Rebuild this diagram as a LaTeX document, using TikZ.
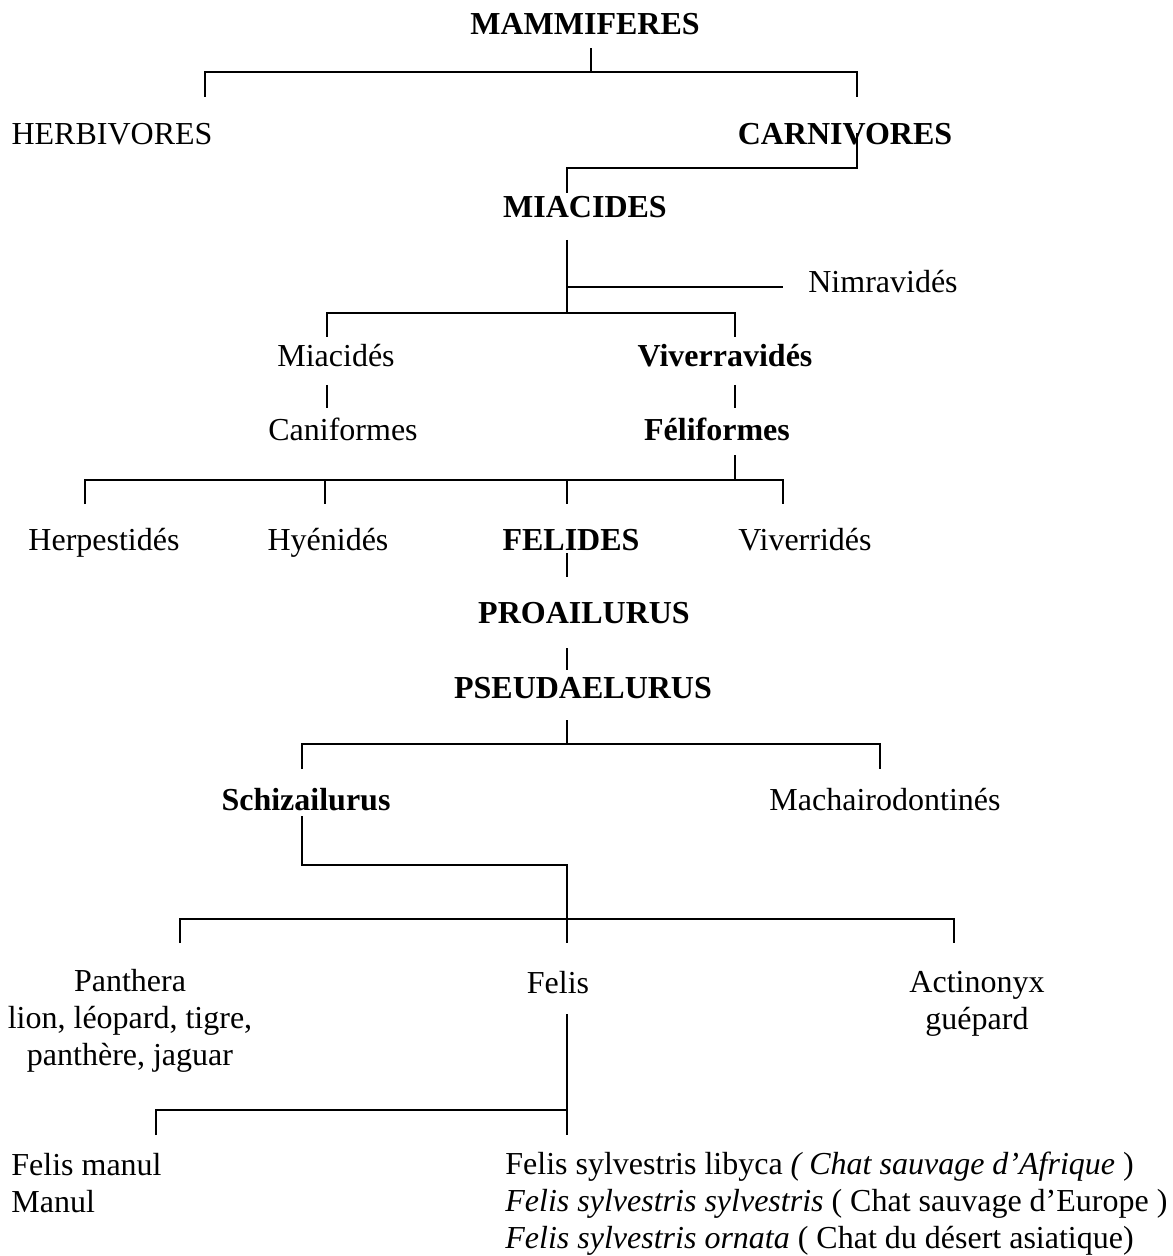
\documentclass[tikz,border=0pt]{standalone}
\usepackage{fontspec}
\setmainfont{Liberation Serif}
\usetikzlibrary{positioning}

\begin{document}
\begin{tikzpicture}[x=0.5pt, y=-0.5pt]
    % --- Style Definitions ---
    \tikzset{
        taxon/.style={
            anchor=base,
            inner sep=0pt,
            font=\fontsize{16}{18.3}\selectfont
        },
        main taxon/.style={
            taxon,
            font=\fontsize{16}{18.3}\selectfont\bfseries
        },
        branch/.style={
            draw=black,
            line width=1pt
        }
    }
    \useasboundingbox (0,0) rectangle (1172,1256);

    % --- 1. Upper levels ---
    \node[main taxon] (mam) at (585,35) {MAMMIFERES};
    \node[taxon] (herb) at (112,145) {HERBIVORES};
    \node[main taxon] (carn) at (845,145) {CARNIVORES};
    \node[main taxon] (miac) at (585,218) {MIACIDES};
    \node[taxon] (nimr) at (883,293) {Nimravidés};
    \node[taxon] (miacs) at (336,367) {Miacidés};
    \node[main taxon] (viv) at (725,367) {Viverravidés};
    \node[taxon] (canif) at (343,440) {Caniformes};
    \node[main taxon] (felif) at (717,440) {Féliformes};

    % --- 2. Families ---
    \node[taxon] (herp) at (104,550) {Herpestidés};
    \node[taxon] (hyen) at (328,550) {Hyénidés};
    \node[main taxon] (felid) at (571,550) {FELIDES};
    \node[taxon] (viverr) at (805,550) {Viverridés};
    \node[main taxon] (proa) at (584,623) {PROAILURUS};
    \node[main taxon] (pseud) at (583,698) {PSEUDAELURUS};
    \node[main taxon] (schiz) at (306,810) {Schizailurus};
    \node[taxon] (mach) at (885,810) {Machairodontinés};

    % --- 3. Genera and species (base = last line) ---
    \node[taxon, align=center] (panth) at (130,1065) {Panthera\\lion, léopard, tigre,\\panthère, jaguar};
    \node[taxon] (felis) at (558,993) {Felis};
    \node[taxon, align=center] (actin) at (977,1029) {Actinonyx\\guépard};
    \node[taxon, anchor=base west, align=left] (manul) at (11,1212) {Felis manul\\Manul};
    \node[taxon, anchor=base west, align=left] (sylv) at (505,1248)
        {Felis sylvestris libyca \textit{( Chat sauvage d’Afrique} )\\
         \textit{Felis sylvestris sylvestris} ( Chat sauvage d’Europe )\\
         \textit{Felis sylvestris ornata} ( Chat du désert asiatique)};

    % --- 4. Branches ---
    \coordinate (mamJ) at (591,72);
    \coordinate (herbT) at (205,97);
    \coordinate (carnT) at (857,97);
    \draw[branch] (mamJ) -- ++(0,-24);
    \draw[branch] (herbT) |- (carnT |- mamJ) -- (carnT);

    \coordinate (carnB) at (857,133);
    \coordinate (miacT) at (567,193);
    \draw[branch] (carnB) -- ++(0,35) -| (miacT);

    \coordinate (miacB) at (567,240);
    \coordinate (miacJ) at (567,313);
    \coordinate (nimrJ) at (567,287);
    \coordinate (miacsT) at (327,337);
    \coordinate (vivT) at (735,337);
    \draw[branch] (miacB) -- (miacJ);
    \draw[branch] (nimrJ) -- ++(216,0);
    \draw[branch] (miacsT) |- (vivT |- miacJ) -- (vivT);

    \draw[branch] (miacs.base) ++(-9,18) -- ++(0,23);
    \draw[branch] (viv.base) ++(10,18) -- ++(0,23);

    \coordinate (felJ) at (735,480);
    \coordinate (herpT) at (85,504);
    \coordinate (viverrT) at (783,504);
    \draw[branch] (felif.base) ++(18,15) -- (felJ);
    \draw[branch] (herpT) |- (viverrT |- felJ) -- (viverrT);
    \draw[branch] (hyen.base) ++(-3,-70) -- ++(0,24);
    \draw[branch] (felid.base) ++(-4,-70) -- ++(0,24);

    \draw[branch] (felid.base) ++(-4,3) -- ++(0,24);
    \draw[branch] (proa.base) ++(-17,25) -- ++(0,22);
    \draw[branch] (pseud.base) ++(-16,22) -- ++(0,24);

    \coordinate (pseudJ) at (567,744);
    \coordinate (schizT) at (302,769);
    \coordinate (machT) at (880,769);
    \draw[branch] (schizT) |- (machT |- pseudJ) -- (machT);

    \coordinate (genJ) at (567,919);
    \coordinate (panthT) at (180,943);
    \coordinate (actinT) at (954,943);
    \draw[branch] (schiz.base) ++(-4,6) -- ++(0,49) -| (genJ);
    \draw[branch] (panthT) |- (actinT |- genJ) -- (actinT);
    \draw[branch] (genJ) -- ++(0,24);

    \coordinate (felisB) at (567,1014);
    \coordinate (sylvT) at (567,1135);
    \coordinate (manulT) at (156,1135);
    \draw[branch] (felisB) -- (sylvT);
    \draw[branch] (manulT) -- ++(0,-25) -- ++(411,0);

\end{tikzpicture}
\end{document}
